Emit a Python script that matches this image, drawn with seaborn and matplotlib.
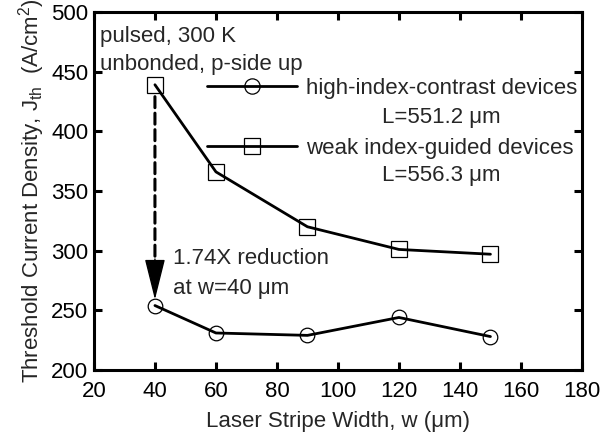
import matplotlib
matplotlib.use("Agg")
import matplotlib.pyplot as plt
import seaborn as sns
import pandas as pd
from matplotlib.lines import Line2D

width = [40, 60, 90, 120, 150]
jth_high = [254, 231, 229, 244, 228]
jth_weak = [439, 366, 320, 301, 297]
xticks = [20, 40, 60, 80, 100, 120, 140, 160, 180]
yticks = [200, 250, 300, 350, 400, 450, 500]

sns.set_style("ticks")
plt.rcParams['font.family'] = ['Liberation Sans', 'DejaVu Sans']
plt.rcParams['mathtext.fontset'] = 'custom'
plt.rcParams['mathtext.rm'] = 'Liberation Sans'
plt.rcParams['mathtext.it'] = 'Liberation Sans'

fs = 16
lw = 2.0
fig = plt.figure(figsize=(6.10, 4.34), dpi=100)
ax = fig.add_axes([0.154, 0.1475, 0.8, 0.825])

df_h = pd.DataFrame({"w": width, "j": jth_high})
df_w = pd.DataFrame({"w": width, "j": jth_weak})
sns.lineplot(data=df_h, x="w", y="j", ax=ax, color="black", lw=lw,
             marker="o", markersize=10.5, markerfacecolor="none",
             markeredgecolor="black", markeredgewidth=0.9)
sns.lineplot(data=df_w, x="w", y="j", ax=ax, color="black", lw=lw,
             marker="s", markersize=11.5, markerfacecolor="none",
             markeredgecolor="black", markeredgewidth=0.9)

ax.set_xlim(20, 180)
ax.set_ylim(200, 500)
ax.set_xticks(xticks)
ax.set_yticks(yticks)
ax.tick_params(direction="in", length=6, width=2.2, labelsize=fs,
               top=True, right=True, colors="black")
ax.tick_params(axis="x", pad=8)
ax.tick_params(axis="y", pad=4)
for s in ax.spines.values():
    s.set_linewidth(2.2)
    s.set_visible(True)
    s.set_color("black")

ax.set_xlabel("Laser Stripe Width, w (\u03bcm)", fontsize=fs, labelpad=6.5)
ax.set_ylabel("Threshold Current Density, J$_{\\rm th}$  (A/cm$^2$)", fontsize=fs, labelpad=3)

handles = [Line2D([], [], color="black", lw=lw, marker="o", markersize=11,
                  markerfacecolor="none", markeredgewidth=0.9),
           Line2D([], [], color="black", lw=lw, marker="s", markersize=11.5,
                  markerfacecolor="none", markeredgewidth=0.9)]
ax.legend(handles, ["high-index-contrast devices", "weak index-guided devices"],
          loc="center left", bbox_to_anchor=(0.2316, 0.702), frameon=False,
          fontsize=fs, handlelength=4.05, handletextpad=0.4, labelspacing=1.76,
          borderpad=0, borderaxespad=0)
ax.text(0.711, 0.706, "L=551.2 \u03bcm", transform=ax.transAxes, ha="center", va="center", fontsize=fs)
ax.text(0.711, 0.544, "L=556.3 \u03bcm", transform=ax.transAxes, ha="center", va="center", fontsize=fs)

ax.text(0.0123, 0.9595, "pulsed, 300 K\nunbonded, p-side up", transform=ax.transAxes,
        ha="left", va="top", fontsize=fs, linespacing=1.38)
ax.text(0.162, 0.34, "1.74X reduction\nat w=40 \u03bcm", transform=ax.transAxes,
        ha="left", va="top", fontsize=fs, linespacing=1.54)

ax.annotate("", xy=(40, 290), xytext=(40, 429),
            arrowprops=dict(arrowstyle="-", color="black", lw=2.2,
                            ls=(0, (3.6, 1.8)), shrinkA=0, shrinkB=0))
ax.annotate("", xy=(40, 259), xytext=(40, 293),
            arrowprops=dict(arrowstyle="-|>,head_length=2.6,head_width=0.65",
                            mutation_scale=10, color="black", lw=1.0,
                            shrinkA=0, shrinkB=0))

fig.savefig("out.png", dpi=100)
